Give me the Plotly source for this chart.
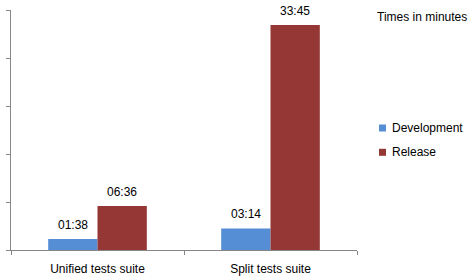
import plotly.graph_objects as go

categories = ["Unified tests suite", "Split tests suite"]
series_names = ["Development", "Release"]
# times in seconds
dev_seconds = [98, 194]
rel_seconds = [396, 2025]
dev_labels = ["01:38", "03:14"]
rel_labels = ["06:36", "33:45"]
colors = ["#558ED5", "#953735"]
y_ticks = [0, 0.005, 0.01, 0.015, 0.02, 0.025]

FONT = "Liberation Sans"

def to_days(secs):
    return [s / 86400 for s in secs]

series_vals = [to_days(dev_seconds), to_days(rel_seconds)]
series_labels = [dev_labels, rel_labels]

fig = go.Figure()
for name, vals, col in zip(series_names, series_vals, colors):
    fig.add_trace(go.Bar(x=categories, y=vals, name=name, marker_color=col,
                         marker_line_width=0, showlegend=False))

L, R, T, B = 11, 115, 10, 29
W, H = 472, 279
pw = W - L - R
ph = H - T - B
cat_w = pw / len(categories)
bargap = 0.43
bar_w = cat_w * (1 - bargap) / len(series_names)

annotations = []
for si, (vals, labs) in enumerate(zip(series_vals, series_labels)):
    shift = (si - (len(series_names) - 1) / 2) * bar_w
    for c, v, lab in zip(categories, vals, labs):
        annotations.append(dict(x=c, y=v, xref="x", yref="y", text=lab, showarrow=False,
                                xshift=shift, yshift=14, yanchor="middle",
                                font=dict(family=FONT, size=12, color="#000000")))

annotations.append(dict(x=(375 - L) / pw, y=(H - B - 17) / ph, xref="paper", yref="paper",
                        text="Times in minutes", showarrow=False, xanchor="left", yanchor="middle",
                        font=dict(family=FONT, size=12, color="#000000")))

shapes = []
legend_y = [128, 152.3]
for name, col, py in zip(series_names, colors, legend_y):
    shapes.append(dict(type="rect", xref="paper", yref="paper",
                       x0=(379 - L) / pw, x1=(386 - L) / pw,
                       y0=(H - B - py - 3.5) / ph, y1=(H - B - py + 3.5) / ph,
                       fillcolor=col, line_width=0))
    annotations.append(dict(x=(390 - L) / pw, y=(H - B - py) / ph, xref="paper", yref="paper",
                            text=name, showarrow=False, xanchor="left", yanchor="middle",
                            font=dict(family=FONT, size=12, color="#000000")))

fig.update_layout(
    width=W, height=H,
    margin=dict(l=L, r=R, t=T, b=B, pad=0, autoexpand=False),
    paper_bgcolor="white", plot_bgcolor="white",
    barmode="group", bargap=bargap, bargroupgap=0,
    font=dict(family=FONT, size=12, color="#000000"),
    annotations=annotations, shapes=shapes,
    showlegend=False,
)
fig.update_xaxes(showline=True, linecolor="#868686", linewidth=1, ticks="outside",
                 tickson="boundaries", ticklen=4, tickcolor="#868686", showgrid=False,
                 automargin=False,
                 tickfont=dict(family=FONT, size=12, color="#000000"), ticklabelstandoff=8)
fig.update_yaxes(range=[0, 0.025], tickvals=y_ticks, showticklabels=False, showline=True,
                 linecolor="#868686", linewidth=1, ticks="outside", ticklen=4,
                 automargin=False,
                 tickcolor="#868686", showgrid=False, zeroline=False)

fig.write_html("out.html")
